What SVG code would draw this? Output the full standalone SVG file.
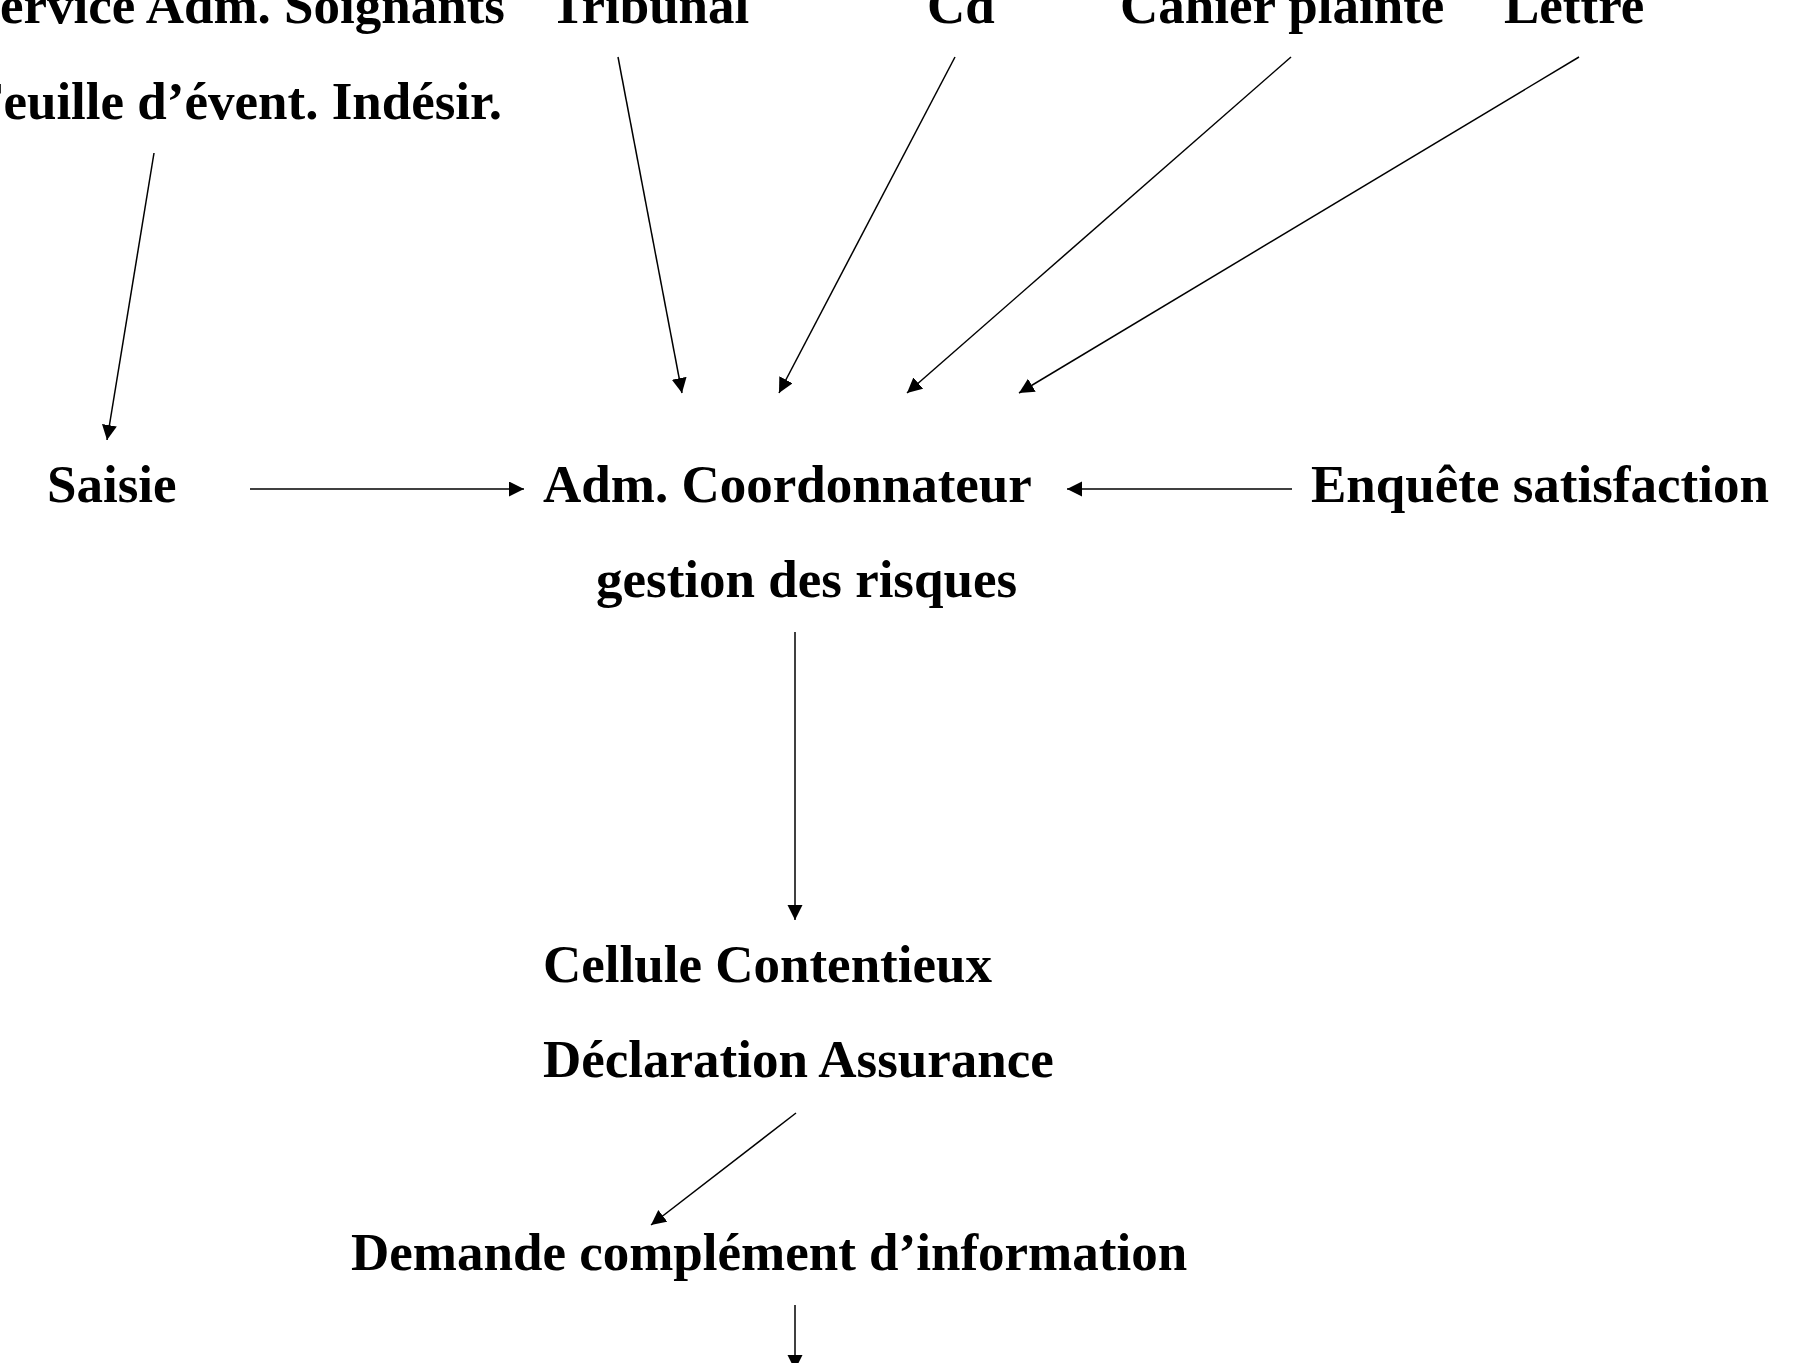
<svg xmlns="http://www.w3.org/2000/svg" width="1811" height="1363" viewBox="0 0 1811 1363">
<defs>
<marker id="arr" markerUnits="userSpaceOnUse" markerWidth="16" markerHeight="16" refX="15" refY="7.5" orient="auto" viewBox="0 0 16 16">
<path d="M0,0 L15,7.5 L0,15 z" fill="#000"/>
</marker>
<style>
text{font-family:"Liberation Serif","Times New Roman",serif;font-weight:bold;font-size:53px;fill:#000}
.c line{stroke:#000;stroke-width:1.5;marker-end:url(#arr)}
</style>
</defs>
<rect width="1811" height="1363" fill="#fff"/>
<g id="service-adm-soignants"><text x="505" y="23" text-anchor="end">Service Adm. Soignants</text></g>
<g id="feuille-evenement"><text x="502" y="119" text-anchor="end">Feuille d’évent. Indésir.</text></g>
<g id="tribunal"><text x="550" y="23">Tribunal</text></g>
<g id="cd"><text x="927" y="23">Cd</text></g>
<g id="cahier-plainte"><text x="1120" y="23">Cahier plainte</text></g>
<g id="lettre"><text x="1504" y="23">Lettre</text></g>
<g id="saisie"><text x="47" y="502">Saisie</text></g>
<g id="adm-coordonnateur"><text x="543" y="502">Adm. Coordonnateur</text><text x="596" y="597">gestion des risques</text></g>
<g id="enquete-satisfaction"><text x="1311" y="502">Enquête satisfaction</text></g>
<g id="cellule-contentieux"><text x="543" y="982">Cellule Contentieux</text><text x="543" y="1077">Déclaration Assurance</text></g>
<g id="demande-complement"><text x="351" y="1270">Demande complément d’information</text></g>
<g id="connectors" class="c">
<line x1="154" y1="153" x2="107" y2="440"/>
<line x1="618" y1="57" x2="682" y2="393"/>
<line x1="955" y1="57" x2="779" y2="393"/>
<line x1="1291" y1="57" x2="907" y2="393"/>
<line x1="1579" y1="57" x2="1019" y2="393"/>
<line x1="250" y1="489" x2="524" y2="489"/>
<line x1="1292" y1="489" x2="1067" y2="489"/>
<line x1="795" y1="632" x2="795" y2="920"/>
<line x1="796" y1="1113" x2="651" y2="1225"/>
<line x1="795" y1="1305" x2="795" y2="1370"/>
</g>
</svg>
